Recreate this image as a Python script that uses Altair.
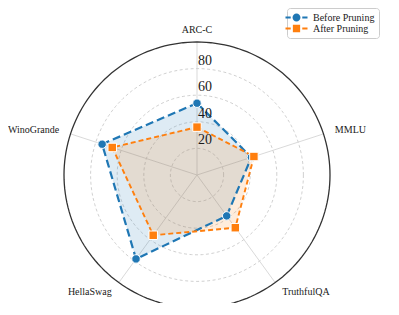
import altair as alt
import pandas as pd

# ---- data ----
categories = ["ARC-C", "MMLU", "TruthfulQA", "HellaSwag", "WinoGrande"]
before = [54, 43, 38, 78, 75]
after = [36, 45, 49, 56, 67]
series_names = ["Before Pruning", "After Pruning"]
ring_levels = [20, 40, 60, 80, 100]
tick_labels = [20, 40, 60, 80]
colors = ["#1f77b4", "#ff7f0e"]

N = len(categories)
R_MAX = 100
LABEL_R = 109

rows = []
for name, vals in zip(series_names, [before, after]):
    for i, (c, v) in enumerate(zip(categories, vals)):
        rows.append({"series": name, "category": c, "idx": i, "value": v})
scores = pd.DataFrame(rows)

ring_df = pd.DataFrame([{"level": l, "deg": d} for l in ring_levels for d in range(0, 361, 2)])
spoke_df = pd.DataFrame([{"category": c, "idx": i, "r": r}
                         for i, c in enumerate(categories) for r in (0, R_MAX)])
label_df = pd.DataFrame({"category": categories, "idx": list(range(N))})
tick_df = pd.DataFrame({"level": tick_labels})

# ---- layout ----
W, H = 382, 295
PX = 1.33  # pixels per unit
xmin = -189 / PX
xmax = xmin + W / PX
ymax = 167 / PX
ymin = ymax - H / PX

X = alt.X("x:Q", scale=alt.Scale(domain=[xmin, xmax], nice=False, zero=False), axis=None)
Y = alt.Y("y:Q", scale=alt.Scale(domain=[ymin, ymax], nice=False, zero=False), axis=None)

ANG = f"PI/2 - datum.idx*2*PI/{N}"
FONT = "Times New Roman, Liberation Serif, DejaVu Serif, serif"

# grid rings
rings = alt.Chart(ring_df).transform_calculate(
    x="datum.level*cos(datum.deg*PI/180)", y="datum.level*sin(datum.deg*PI/180)"
)
inner_rings = rings.transform_filter(f"datum.level < {R_MAX}").mark_line(
    color="#c4c4c4", strokeWidth=0.8, strokeDash=[3, 2.5]
).encode(x=X, y=Y, detail="level:N", order="deg:Q")
outer_ring = rings.transform_filter(f"datum.level == {R_MAX}").mark_line(
    color="#333333", strokeWidth=1.3
).encode(x=X, y=Y, detail="level:N", order="deg:Q")

spokes = alt.Chart(spoke_df).transform_calculate(
    ang=ANG
).transform_calculate(
    x="datum.r*cos(datum.ang)", y="datum.r*sin(datum.ang)"
).mark_line(color="#cfcfcf", strokeWidth=0.8).encode(x=X, y=Y, detail="category:N", order="r:Q")

base = alt.Chart(scores).transform_calculate(ang=ANG).transform_calculate(
    x="datum.value*cos(datum.ang)", y="datum.value*sin(datum.ang)"
)

layers = [inner_rings, spokes, outer_ring]

# fills
for name, col in zip(series_names, colors):
    layers.append(
        base.transform_filter(alt.datum.series == name).mark_line(
            interpolate="linear-closed", fill=col, fillOpacity=0.15, strokeOpacity=0
        ).encode(x=X, y=Y, order="idx:Q")
    )

# dashed outlines
dash_styles = [dict(strokeWidth=2.2, strokeDash=[8, 4]), dict(strokeWidth=1.9, strokeDash=[5, 3])]
for name, col, st in zip(series_names, colors, dash_styles):
    layers.append(
        base.transform_filter(alt.datum.series == name).mark_line(
            interpolate="linear-closed", color=col, **st
        ).encode(x=X, y=Y, order="idx:Q")
    )

# markers
marker_shapes = ["circle", "square"]
for name, col, shp in zip(series_names, colors, marker_shapes):
    layers.append(
        base.transform_filter(alt.datum.series == name).mark_point(
            shape=shp, filled=True, fill=col, stroke="white", strokeWidth=1,
            size=72, opacity=1, fillOpacity=1
        ).encode(x=X, y=Y)
    )

# category labels
lab = alt.Chart(label_df).transform_calculate(ang=ANG).transform_calculate(
    x=f"{LABEL_R}*cos(datum.ang)", y=f"{LABEL_R}*sin(datum.ang)", c="cos(datum.ang)"
)
for cond, al in [("abs(datum.c) < 0.1", "center"), ("datum.c >= 0.1", "left"), ("datum.c <= -0.1", "right")]:
    layers.append(
        lab.transform_filter(cond).mark_text(
            font=FONT, fontSize=10, align=al, baseline="middle", color="#1a1a1a", fontWeight="normal"
        ).encode(x=X, y=Y, text="category:N")
    )

# radial tick labels
layers.append(
    alt.Chart(tick_df).transform_calculate(x="0", y="datum.level").mark_text(
        font=FONT, fontSize=14, align="left", baseline="middle", dx=1, dy=-8, color="#1a1a1a"
    ).encode(x=X, y=Y, text="level:Q")
)

# legend (driven by the series scale)
blue_sym = ("M-2,-0.17H-1.05V0.17H-2Z M1.05,-0.17H2V0.17H1.05Z "
            "M0.72,0A0.72,0.72,0,1,1,-0.72,0A0.72,0.72,0,1,1,0.72,0Z")
orange_sym = ("M-2,-0.17H-1.05V0.17H-2Z M1.05,-0.17H2V0.17H1.05Z "
              "M-0.66,-0.66H0.66V0.66H-0.66Z")
leg = alt.Legend(
    title=None, orient="none", legendX=279, legendY=0, symbolSize=121,
    symbolStrokeWidth=0, labelFont=FONT, labelFontSize=10, labelColor="#1a1a1a",
    strokeColor="#cccccc", fillColor="white", padding=4, cornerRadius=3,
    rowPadding=0, labelOffset=11, symbolOpacity=1,
)
layers.append(
    base.transform_filter("false").mark_point(filled=True, size=121, opacity=1).encode(
        x=X, y=Y,
        color=alt.Color("series:N", scale=alt.Scale(domain=series_names, range=colors), legend=leg),
        shape=alt.Shape("series:N", scale=alt.Scale(domain=series_names, range=[blue_sym, orange_sym]), legend=leg),
    )
)

chart = alt.layer(*layers).properties(
    width=W, height=H, padding=0, autosize=alt.AutoSizeParams(type="none")
).configure_view(stroke=None)

chart.save("out.html", embed_options={"renderer": "svg", "actions": False})
